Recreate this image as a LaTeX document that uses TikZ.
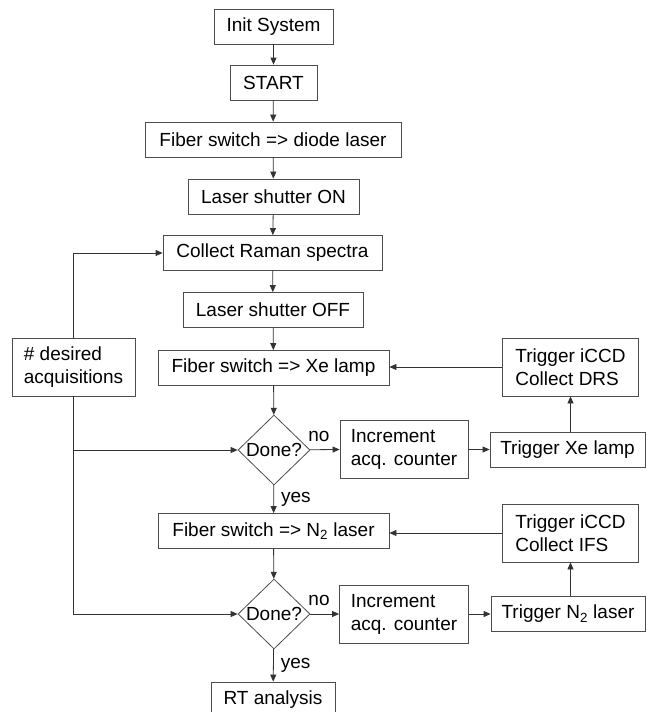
\documentclass[tikz,border=0pt]{standalone}
\usepackage{fontspec}
\setmainfont{Liberation Sans}
\usetikzlibrary{positioning, arrows.meta, shapes.geometric}
\tikzset{
>={Triangle[length=7pt,width=6pt]}, % small filled arrow heads
box/.style={draw=black!70, line width=0.8pt, minimum height=35pt, inner sep=0pt, font=\fontsize{19}{23}\selectfont}, % one line step
twoline/.style={box, align=left, minimum height=58pt}, % two line step, text kept to the left
decision/.style={draw=black!70, line width=0.8pt, diamond, minimum width=72pt, minimum height=70pt, inner sep=0pt}, % the Done? test
flow/.style={->, draw=black!80, line width=0.8pt}, % the connectors
lbl/.style={font=\fontsize{19}{23}\selectfont, inner sep=0pt}, % yes / no and the text in the diamonds
}
\begin{document}
\begin{tikzpicture}[x=1pt, y=-1pt]
        \useasboundingbox (0,0) rectangle (647,712);

        % main column
        \node[box, minimum width=119pt] (init) at (273.5,26.5) {Init System};
        \node[box, minimum width=87pt] (start) at (273.5,82.5) {START};
        \node[box, minimum width=256pt] (diode) at (273,139.5) {Fiber switch => diode laser};
        \node[box, minimum width=171pt] (shon) at (273.5,196.5) {Laser shutter ON};
        \node[box, minimum width=219pt] (raman) at (272.5,253) {Collect Raman spectra};
        \node[box, minimum width=180pt] (shoff) at (273,310) {Laser shutter OFF};
        \node[box, minimum width=231pt] (xe) at (273.5,368) {Fiber switch => Xe lamp};
        \node[decision, label={[lbl]center:Done?}] (doneone) at (274,450) {};
        \node[box, minimum width=231pt] (ntwo) at (273.5,531) {Fiber switch => N\textsubscript{2} laser};
        \node[decision, label={[lbl]center:Done?}] (donetwo) at (274,614) {};
        \node[box, minimum width=124pt] (rt) at (273,699.5) {RT analysis};

        % side loops
        \node[twoline, minimum width=123pt] (desired) at (73.5,367) {\# desired\\acquisitions};
        \node[twoline, minimum width=128pt] (incone) at (404,449) {Increment\\acq. counter};
        \node[box, minimum width=155pt] (trigxe) at (567.5,450) {Trigger Xe lamp};
        \node[twoline, minimum width=136pt] (drs) at (570.5,367) {Trigger iCCD\\Collect DRS};
        \node[twoline, minimum width=129pt] (inctwo) at (404,614) {Increment\\acq. counter};
        \node[box, minimum width=154pt] (trign) at (568,614) {Trigger N\textsubscript{2} laser};
        \node[twoline, minimum width=136pt] (ifs) at (570.5,533) {Trigger iCCD\\Collect IFS};

        \draw[flow] (init) -- (start);
        \draw[flow] (start) -- (diode);
        \draw[flow] (diode) -- (shon);
        \draw[flow] (shon) -- (raman);
        \draw[flow] (raman) -- (shoff);
        \draw[flow] (shoff) -- (xe);
        \draw[flow] (xe) -- (doneone);
        \draw[flow] (doneone) -- node[lbl, pos=0.3, above=8pt] {no} (incone);
        \draw[flow] (incone) -- (trigxe);
        \draw[flow] (drs.south |- trigxe.north) -- (drs.south);
        \draw[flow] (drs.west) -- (drs.west -| xe.east);
        \draw[flow] (doneone) -- node[lbl, right=7pt] {yes} (ntwo);
        \draw[flow] (ntwo) -- (donetwo);
        \draw[flow] (donetwo) -- node[lbl, pos=0.3, above=8pt] {no} (inctwo);
        \draw[flow] (inctwo) -- (trign);
        \draw[flow] (ifs.south |- trign.north) -- (ifs.south);
        \draw[flow] (ifs.west) -- (ifs.west -| ntwo.east);
        \draw[flow] (donetwo) -- node[lbl, right=7pt] {yes} (rt);

        % acquisition count feeds back
        \draw[flow] (desired.north) |- (raman.west);
        \draw[flow] (desired.south) |- (donetwo.west);
        \draw[flow] (desired.south |- doneone.west) -- (doneone.west);
\end{tikzpicture}
\end{document}
